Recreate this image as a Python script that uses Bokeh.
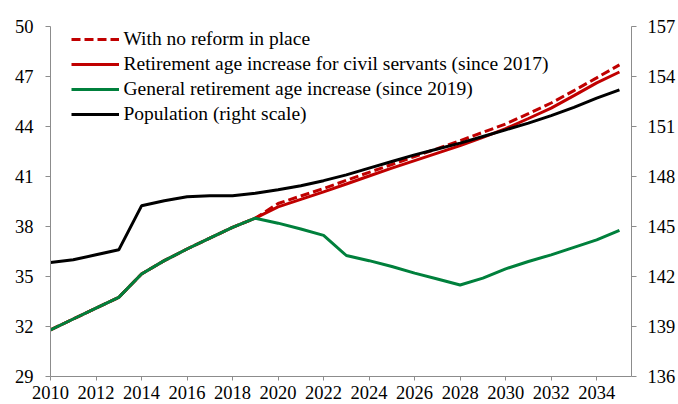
from bokeh.plotting import figure
from bokeh.models import Range1d, LinearAxis, FixedTicker, Legend, LegendItem, ColumnDataSource
from bokeh.embed import file_html
from bokeh.resources import INLINE

years = list(range(2010, 2036))
no_reform = [31.8, 32.45, 33.1, 33.75, 35.15, 35.95, 36.65, 37.3, 37.95, 38.5,
             39.38, 39.83, 40.28, 40.77, 41.25, 41.72, 42.2, 42.67, 43.15, 43.65,
             44.15, 44.77, 45.41, 46.15, 46.92, 47.7]
civil_servants = [31.8, 32.45, 33.1, 33.75, 35.15, 35.95, 36.65, 37.3, 37.95, 38.5,
                  39.18, 39.63, 40.08, 40.55, 41.03, 41.5, 41.95, 42.4, 42.85, 43.35,
                  43.87, 44.48, 45.1, 45.85, 46.62, 47.27]
general = [31.8, 32.45, 33.1, 33.75, 35.15, 35.95, 36.65, 37.3, 37.95, 38.5,
           38.2, 37.85, 37.47, 36.26, 35.95, 35.6, 35.2, 34.85, 34.49, 34.9,
           35.46, 35.9, 36.3, 36.75, 37.2, 37.77]
population = [142.84, 143.0, 143.3, 143.6, 146.24, 146.55, 146.78, 146.85, 146.85, 147.0,
              147.2, 147.45, 147.75, 148.1, 148.5, 148.9, 149.3, 149.65, 150.0, 150.4,
              150.8, 151.2, 151.65, 152.15, 152.7, 153.2]

x_ticks = list(range(2010, 2035, 2))
left_ticks = [29, 32, 35, 38, 41, 44, 47, 50]
right_ticks = [136, 139, 142, 145, 148, 151, 154, 157]

labels = ["With no reform in place",
          "Retirement age increase for civil servants (since 2017)",
          "General retirement age increase (since 2019)",
          "Population (right scale)"]

src = ColumnDataSource(dict(year=years, no_reform=no_reform, civil=civil_servants,
                            general=general, pop=population))

FONT = "Liberation Serif"
AXIS_COL = "#8c8c8c"

p = figure(width=678, height=404, output_backend="svg", toolbar_location=None,
           x_range=Range1d(2010, 2035.53), y_range=Range1d(29, 50),
           min_border_left=50, min_border_right=45, min_border_top=26, min_border_bottom=28,
           x_axis_type=None, y_axis_type=None)
p.extra_y_ranges = {"pop": Range1d(136, 157)}
p.outline_line_color = None
p.xgrid.visible = False
p.ygrid.visible = False
p.background_fill_color = "white"
p.border_fill_color = "white"


def style(ax, standoff):
    ax.axis_line_color = AXIS_COL
    ax.axis_line_width = 1
    ax.major_tick_line_color = AXIS_COL
    ax.major_tick_in = 0
    ax.major_tick_out = 5
    ax.minor_tick_line_color = None
    ax.major_label_text_font = FONT
    ax.major_label_text_font_size = "18.5px"
    ax.major_label_text_color = "black"
    ax.major_label_standoff = standoff


xa = LinearAxis(ticker=FixedTicker(ticks=x_ticks))
style(xa, 5)
xa.major_tick_out = 4
p.add_layout(xa, "below")

ya = LinearAxis(ticker=FixedTicker(ticks=left_ticks))
style(ya, 12)
p.add_layout(ya, "left")

ra = LinearAxis(y_range_name="pop", ticker=FixedTicker(ticks=right_ticks))
style(ra, 11)
p.add_layout(ra, "right")

r1 = p.line("year", "no_reform", source=src, line_color="#C00000", line_width=3, line_dash="9 4")
r2 = p.line("year", "civil", source=src, line_color="#C00000", line_width=3)
r3 = p.line("year", "general", source=src, line_color="#00803C", line_width=3)
r4 = p.line("year", "pop", source=src, line_color="black", line_width=3, y_range_name="pop")

legend = Legend(items=[LegendItem(label=labels[0], renderers=[r1]),
                       LegendItem(label=labels[1], renderers=[r2]),
                       LegendItem(label=labels[2], renderers=[r3]),
                       LegendItem(label=labels[3], renderers=[r4])],
                location=(20.5, 250), padding=0, margin=0, spacing=1,
                glyph_width=48, glyph_height=24, label_height=24, label_standoff=5,
                label_text_font=FONT, label_text_font_size="19.5px", label_text_color="black",
                border_line_color=None, background_fill_alpha=0)
p.add_layout(legend)

open("out.html", "w").write(file_html(p, INLINE))
